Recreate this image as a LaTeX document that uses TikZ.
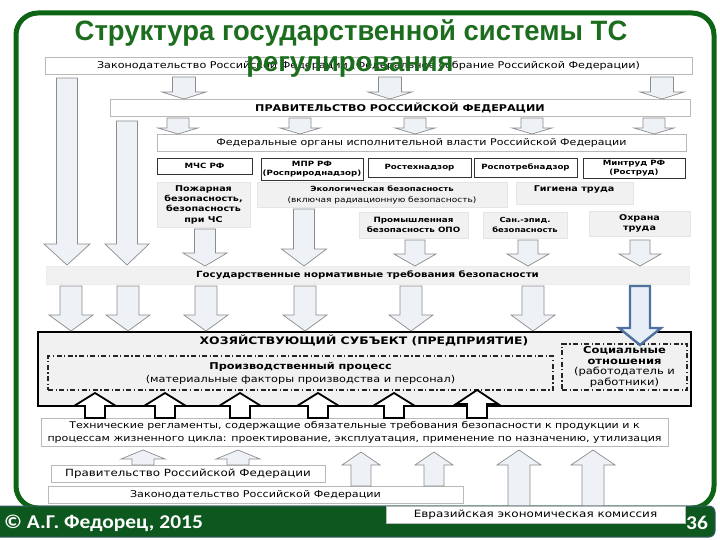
\documentclass[tikz,border=0pt]{standalone}
\usepackage{fontspec}
\setmainfont{DejaVu Sans}[FakeStretch=1.2]
\newfontfamily\titlefont{Liberation Sans}[FakeStretch=0.98]
\newfontfamily\footfont{Carlito}[FakeStretch=1.1]
\definecolor{tgreen}{RGB}{28,110,30}
\definecolor{fgreen}{RGB}{12,100,20}
\definecolor{bargreen}{RGB}{12,88,30}
\definecolor{barline}{RGB}{60,90,110}
\definecolor{afill}{RGB}{238,241,246}
\definecolor{aline}{RGB}{140,140,140}
\definecolor{steel}{RGB}{80,112,160}
\definecolor{steelfill}{RGB}{232,238,247}
\definecolor{gfill}{RGB}{241,241,241}
\newcommand{\bx}[7]{\node[#1, minimum width={(#4)-(#2)}, minimum height={(#5)-(#3)}] (#6) at ({((#2)+(#4))/2},{((#3)+(#5))/2}) {#7};}
\newcommand{\arrV}[7]{\draw[#1] ({#2-#6},#3) -- ({#2+#6},#3) -- ({#2+#6},#4) -- ({#2+#7},#4) -- (#2,#5) -- ({#2-#7},#4) -- ({#2-#6},#4) -- cycle;}
\newcommand{\fs}[1]{\fontsize{#1}{#1}\selectfont}
\begin{document}
\begin{tikzpicture}[x=1pt,y=-1pt,
  every node/.style={inner sep=0pt, align=center, font=\fontsize{8.5}{10}\selectfont},
  wbox/.style={draw=gray!55, fill=white, line width=0.6pt},
  abox/.style={draw=black!80, fill=white, line width=0.8pt, font=\fontsize{7.2}{8.6}\selectfont\bfseries},
  gbox/.style={draw=gray!20, fill=gfill, line width=0.5pt, font=\fontsize{8}{10.3}\selectfont\bfseries},
  arrG/.style={draw=aline, fill=afill, line width=0.7pt, line join=miter},
  arrK/.style={draw=black, fill=white, line width=1.8pt, line join=miter},
  arrB/.style={draw=steel, fill=steelfill, line width=2.4pt, line join=miter},
  dd/.style={draw=black!85, line width=1.1pt, dash pattern=on 5pt off 2.5pt on 1.2pt off 2.5pt},
  ttl/.style={text=tgreen, font=\titlefont\bfseries\fontsize{28}{28}\selectfont},
  foot/.style={text=white, font=\footfont\bfseries\fontsize{19.5}{20}\selectfont}]
\useasboundingbox (0,0) rectangle (720,540);
\fill[white] (0,0) rectangle (720,540);
% frame
\draw[fgreen, line width=5pt, rounded corners=22pt] (16,13) rectangle (714,508);
% top boxes
\bx{wbox, font=\fontsize{9.3}{10}\selectfont}{45}{57}{692}{74}{zak}{Законодательство Российской Федерации (Федеральное собрание Российской Федерации)}
\bx{wbox, font=\fontsize{9.3}{10}\selectfont\bfseries}{110}{99}{690}{116}{prav}{ПРАВИТЕЛЬСТВО РОССИЙСКОЙ ФЕДЕРАЦИИ}
\bx{wbox, font=\fontsize{9.2}{10}\selectfont}{157}{134}{686}{151}{feo}{Федеральные органы исполнительной власти Российской Федерации}
% agencies
\bx{abox}{157}{158}{252}{174}{mchs}{МЧС РФ}
\bx{abox}{261}{158}{363}{180}{mpr}{МПР РФ\\(Росприроднадзор)}
\bx{abox}{368}{158}{471}{177}{rtn}{Ростехнадзор}
\bx{abox}{474}{158}{577}{177}{rpn}{Роспотребнадзор}
\bx{abox}{583}{158}{685}{178}{mintrud}{Минтруд РФ\\(Роструд)}
% grey boxes
\bx{gbox}{157}{182}{250}{227}{pozh}{Пожарная\\безопасность,\\безопасность\\при ЧС}
\bx{gbox, font=\fontsize{7.1}{11}\selectfont\bfseries}{257}{182}{507}{207}{eko}{Экологическая безопасность\\{\mdseries\fs{7.5}(включая радиационную безопасность)}}
\bx{gbox}{516}{182}{633}{204}{gig}{}
\node[font=\fontsize{8}{10}\selectfont\bfseries] (gigt) at (574,189) {Гигиена труда};
\bx{gbox, font=\fontsize{7.3}{9.5}\selectfont\bfseries}{359}{212}{468}{238}{prom}{Промышленная\\безопасность ОПО}
\bx{gbox, font=\fontsize{7}{10}\selectfont\bfseries}{483}{212}{567}{238}{san}{Сан.-эпид.\\безопасность}
\bx{gbox}{589}{211}{690}{236}{ohr}{Охрана\\труда}
% state requirements
\bx{gbox, draw=gray!15, font=\fontsize{8.5}{10}\selectfont\bfseries}{46}{266}{689}{284}{gos}{Государственные нормативные требования безопасности}
% enterprise
\bx{draw=black, fill=gfill, line width=2.5pt}{38}{332}{691}{406}{hoz}{}
\node[font=\fontsize{10.3}{11}\selectfont\bfseries] (hozt) at (364,341) {ХОЗЯЙСТВУЮЩИЙ СУБЪЕКТ (ПРЕДПРИЯТИЕ)};
\bx{dd, font=\fontsize{9.4}{11}\selectfont}{48}{356}{553}{390}{proc}{\textbf{Производственный процесс}\\[2pt](материальные факторы производства и персонал)}
\bx{dd, font=\fontsize{9.6}{10.4}\selectfont}{562}{344}{687}{390}{soc}{\textbf{Социальные}\\\textbf{отношения}\\(работодатель и\\работники)}
% technical regulations
\bx{wbox, font=\fontsize{9.2}{13}\selectfont}{41}{418}{668}{446}{teh}{Технические регламенты, содержащие обязательные требования безопасности к продукции и к\\процессам жизненного цикла: проектирование, эксплуатация, применение по назначению, утилизация}
\bx{wbox, font=\fontsize{9.9}{10}\selectfont}{51}{465}{325}{482}{prav2}{Правительство Российской Федерации}
\bx{wbox, font=\fontsize{9.3}{10}\selectfont}{48}{486}{463}{503}{zak2}{Законодательство Российской Федерации}
% arrows top
\arrV{arrG}{67}{78}{244}{265}{10.5}{23}
\arrV{arrG}{127}{121}{244}{265}{10.5}{22}
\foreach \c in {184,390,662} {\arrV{arrG}{\c}{77}{92}{99}{11.5}{22}}
\foreach \c in {178,300,415,532,654} {\arrV{arrG}{\c}{118}{128}{134}{11}{20}}
\arrV{arrG}{205}{229}{253}{266}{10.5}{22}
\arrV{arrG}{304}{209}{249}{266}{10.5}{22.5}
\foreach \c in {415,528,640} {\arrV{arrG}{\c}{240}{254}{266}{10}{21}}
\foreach \c in {71,128,206,305,411,533} {\arrV{arrG}{\c}{286}{315}{331}{11}{22}}
\arrV{arrB}{640}{286}{328}{345}{10}{21}
% black up arrows
\foreach \c in {95,165,240,318,394} {\arrV{arrK}{\c}{418}{406}{393}{10}{21}}
\arrV{arrK}{477}{418}{404}{390}{10}{21}
% bottom up arrows
\foreach \c in {143,238} {\arrV{arrG}{\c}{465}{459}{450}{11}{22}}
\foreach \c in {361,434} {\arrV{arrG}{\c}{486}{465}{452}{10}{19}}
\foreach \c in {519,593} {\arrV{arrG}{\c}{506}{465}{450}{11}{22}}
% title
\node[ttl] (t1) at (351,33) {Структура государственной системы ТС};
\node[ttl] (t2) at (350,67) {регулирования};
% footer
\draw[barline, fill=bargreen, line width=1pt, rounded corners=6pt] (-10,506) -- (715,506) -- (715,537) -- (-10,537);
\bx{wbox, font=\fontsize{10}{10}\selectfont}{386}{506}{685}{523}{eaek}{Евразийская экономическая комиссия}
\node[foot, anchor=west] (copy) at (4,523) {© А.Г. Федорец, 2015};
\node[foot] (num) at (697,523) {36};
\end{tikzpicture}
\end{document}
